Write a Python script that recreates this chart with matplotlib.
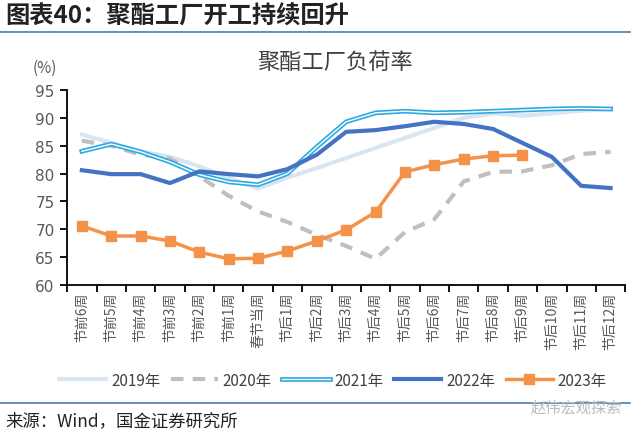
import numpy as np
import matplotlib.pyplot as plt
import matplotlib.patheffects as pe
from matplotlib.lines import Line2D

plt.rcParams['font.family'] = ['Noto Sans CJK SC', 'DejaVu Sans']

weeks = ['节前6周', '节前5周', '节前4周', '节前3周', '节前2周', '节前1周', '春节当周',
         '节后1周', '节后2周', '节后3周', '节后4周', '节后5周', '节后6周', '节后7周',
         '节后8周', '节后9周', '节后10周', '节后11周', '节后12周']

y2019 = [87.0, 85.5, 84.0, 83.0, 81.3, 79.2, 77.3, 79.3, 81.0, 82.8, 84.6, 86.4,
         88.2, 90.0, 90.8, 90.4, 90.8, 91.3, 91.5]
y2020 = [85.9, 85.0, 83.4, 82.7, 79.5, 76.0, 73.2, 71.3, 69.0, 67.0, 64.7, 69.5,
         71.8, 78.6, 80.3, 80.4, 81.5, 83.5, 83.9]
y2021 = [84.0, 85.3, 83.9, 82.1, 79.8, 78.5, 78.0, 80.0, 84.8, 89.3, 90.9, 91.2,
         90.9, 91.0, 91.2, 91.4, 91.6, 91.7, 91.6]
y2022 = [80.6, 79.9, 79.9, 78.3, 80.4, 79.9, 79.5, 80.8, 83.4, 87.5, 87.8, 88.5,
         89.3, 88.9, 88.0, 85.5, 83.0, 77.8, 77.4]
y2023 = [70.6, 68.8, 68.8, 67.9, 65.9, 64.7, 64.8, 66.1, 67.9, 69.9, 73.1, 80.3,
         81.6, 82.6, 83.2, 83.3]

fig = plt.figure(figsize=(6.4, 4.35), dpi=100)
ax = fig.add_axes([0.105, 0.3425, 0.872, 0.4483])

x = np.arange(len(weeks))
ax.plot(x, y2019, color='#DAE5F2', lw=3, label='2019年', zorder=2)
ax.plot(x, y2020, color='#BFBFBF', lw=3, ls=(0, (3, 2.2)), label='2020年', zorder=3)
ax.plot(x, y2021, color='white', lw=1.0, label='2021年', zorder=4,
        path_effects=[pe.Stroke(linewidth=3.4, foreground='#2EAAE2'), pe.Normal()])
ax.plot(x, y2022, color='#4472C4', lw=3, label='2022年', zorder=5)
ax.plot(x[:len(y2023)], y2023, color='#F4924A', lw=2.5, marker='s', ms=7,
        label='2023年', zorder=6)

ax.set_xlim(-0.5, len(weeks) - 0.5)
ax.set_ylim(60, 95)
ax.set_yticks(np.arange(60, 96, 5))
ax.set_yticklabels([str(v) for v in range(60, 96, 5)], fontsize=11, color='#595959',
                   family='DejaVu Sans')
ax.set_xticks(x)
ax.set_xticklabels(weeks, rotation=90, fontsize=10, color='#595959')
ax.set_xticks(np.arange(-0.5, len(weeks), 1), minor=True)
ax.tick_params(axis='x', which='major', length=0, pad=5)
ax.tick_params(axis='x', which='minor', length=5, width=1.3, direction='out')
ax.tick_params(axis='y', length=5, width=1.3, pad=4)
for s in ['top', 'right']:
    ax.spines[s].set_visible(False)
for s in ['left', 'bottom']:
    ax.spines[s].set_linewidth(1.3)

fig.legend(loc='center', bbox_to_anchor=(0.52, 0.124), ncol=5, frameon=False,
           fontsize=11, handlelength=3.1, columnspacing=0.7, handletextpad=0.3,
           labelcolor='#404040')

fig.text(0.008, 0.962, '图表40：聚酯工厂开工持续回升', fontsize=17.5, fontweight='bold',
         color='#222222', va='center', ha='left', style='italic')
fig.add_artist(Line2D([0, 0.985], [0.924, 0.924], color='#4A7BAE', lw=1.2))
fig.text(0.523, 0.857, '聚酯工厂负荷率', fontsize=16, color='#404040', ha='center', va='center')
fig.text(0.07, 0.844, '(%)', fontsize=11, color='#595959', ha='center', va='center')
fig.add_artist(Line2D([0, 0.985], [0.071, 0.071], color='#4A7BAE', lw=1.2))
fig.text(0.008, 0.032, '来源：Wind，国金证券研究所', fontsize=12.5, color='#222222',
         ha='left', va='center')
fig.text(0.9, 0.062, '赵伟宏观探索', fontsize=11, color='#BBBBBB', ha='center', va='center')

fig.savefig('out.png', dpi=100)
